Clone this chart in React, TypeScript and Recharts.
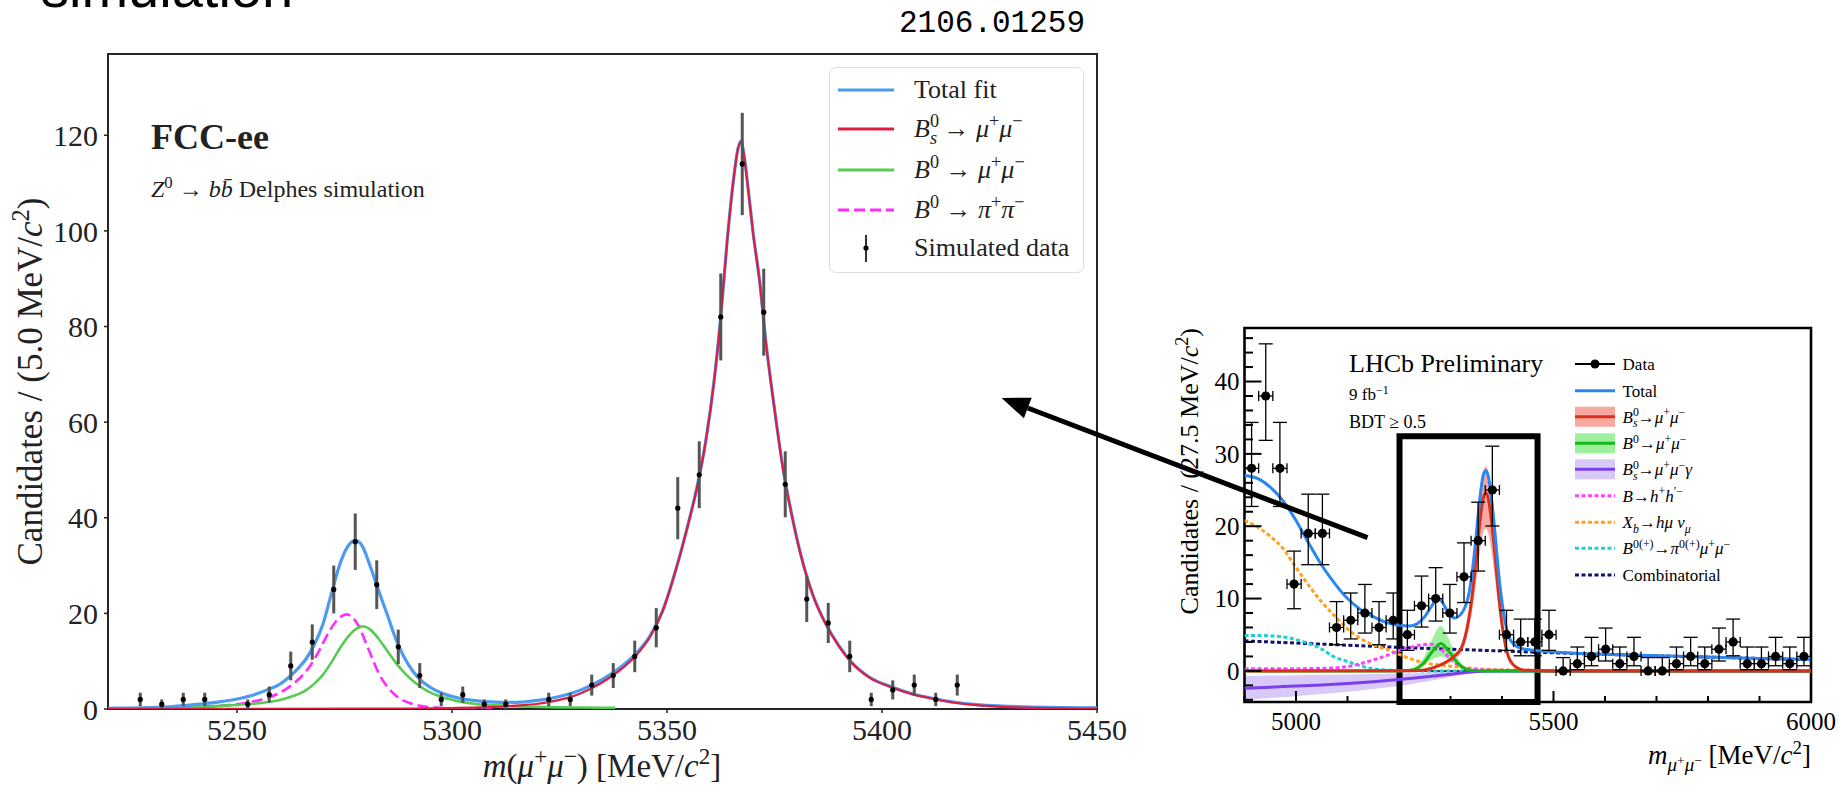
import React from 'react';
import {
  ComposedChart, Line, Area, Scatter, ErrorBar, XAxis, YAxis,
  ReferenceArea, ReferenceLine, Legend,
} from 'recharts';

const SERIF = '"Liberation Serif", "Times New Roman", serif';
const SANS = '"Liberation Sans", Arial, sans-serif';
const MONO = '"Liberation Mono", "DejaVu Sans Mono", monospace';

// ---------- left panel: FCC-ee Delphes simulation ----------
const fccXTicks = [5250, 5300, 5350, 5400, 5450];
const fccYTicks = [0, 20, 40, 60, 80, 100, 120];

const fccMass = [5227.5, 5232.5, 5237.5, 5242.5, 5252.5, 5257.5, 5262.5, 5267.5, 5272.5, 5277.5, 5282.5, 5287.5, 5292.5, 5297.5, 5302.5, 5307.5, 5312.5, 5322.5, 5327.5, 5332.5, 5337.5, 5342.5, 5347.5, 5352.5, 5357.5, 5362.5, 5367.5, 5372.5, 5377.5, 5382.5, 5387.5, 5392.5, 5397.5, 5402.5, 5407.5, 5412.5, 5417.5];
const fccCounts = [2, 1, 2, 2, 1, 3, 9, 14, 25, 35, 26, 13, 7, 2, 3, 1, 1, 2, 2, 5, 7, 11, 17, 42, 49, 82, 114, 83, 47, 23, 18, 11, 2, 4, 5, 2, 5];
const fccErrors = [1.4, 1, 1.4, 1.4, 1, 1.7, 3, 3.7, 5, 5.9, 5.1, 3.6, 2.6, 1.4, 1.7, 1, 1, 1.4, 1.4, 2.2, 2.6, 3.3, 4.1, 6.5, 7, 9.1, 10.7, 9.1, 6.9, 4.8, 4.2, 3.3, 1.4, 2, 2.2, 1.4, 2.2];

const fccTotalMass = [5220, 5225, 5230, 5235, 5240, 5245, 5250, 5254, 5257, 5260, 5262, 5264, 5266, 5268, 5270, 5272, 5274, 5276, 5277.5, 5279, 5281, 5283, 5285, 5287, 5289, 5291, 5293, 5295, 5298, 5301, 5305, 5310, 5315, 5320, 5325, 5330, 5335, 5340, 5343, 5346, 5349, 5352, 5355, 5357, 5359, 5361, 5362.5, 5364, 5365.5, 5366.5, 5367.2, 5368, 5369, 5370, 5371.5, 5373, 5375, 5377, 5379, 5381, 5384, 5387, 5390, 5393, 5397, 5402, 5407, 5412, 5417, 5422, 5428, 5435, 5442, 5450];
const fccTotal = [0.15, 0.2, 0.3, 0.5, 0.9, 1.4, 2.1, 3.0, 4.0, 5.2, 6.6, 8.3, 10.4, 13.5, 17.8, 24.3, 30.5, 34.3, 35.2, 34.3, 29.8, 24.6, 19.6, 14.5, 10.6, 7.8, 5.8, 4.5, 3.2, 2.4, 1.8, 1.45, 1.4, 1.8, 2.6, 4.0, 6.2, 9.3, 11.8, 15.2, 20.6, 29.0, 39.0, 46.5, 56.0, 69.0, 82.0, 98.0, 111.0, 117.2, 118.8, 115.3, 107.8, 99.8, 89.8, 76.8, 62.8, 50.2, 40.7, 32.7, 23.7, 17.7, 13.2, 9.7, 6.7, 4.7, 3.2, 2.2, 1.4, 0.9, 0.6, 0.4, 0.3, 0.25];

const fccBsMass = [5220, 5250, 5280, 5290, 5300, 5305, 5310, 5315, 5320, 5325, 5330, 5335, 5340, 5343, 5346, 5349, 5352, 5355, 5357, 5359, 5361, 5362.5, 5364, 5365.5, 5366.5, 5367.2, 5368, 5369, 5370, 5371.5, 5373, 5375, 5377, 5379, 5381, 5384, 5387, 5390, 5393, 5397, 5402, 5407, 5412, 5417, 5422, 5428, 5435, 5442, 5450];
const fccBs = [0.02, 0.04, 0.08, 0.1, 0.2, 0.3, 0.45, 0.7, 1.1, 1.9, 3.3, 5.6, 8.8, 11.4, 15.0, 20.5, 28.9, 38.9, 46.4, 55.9, 68.9, 81.9, 97.9, 110.9, 117.1, 118.7, 115.2, 107.7, 99.7, 89.7, 76.7, 62.7, 50.1, 40.6, 32.6, 23.6, 17.6, 13.1, 9.6, 6.6, 4.6, 3.1, 2.1, 1.3, 0.8, 0.45, 0.25, 0.12, 0.06];

const fccB0Mass = [5220, 5230, 5240, 5248, 5255, 5260, 5263, 5266, 5268, 5270, 5272, 5274, 5276, 5278, 5279.3, 5281, 5283, 5285, 5287, 5289, 5291, 5294, 5297, 5301, 5305, 5310, 5315, 5320, 5325, 5330, 5338];
const fccB0 = [0.1, 0.2, 0.4, 0.75, 1.2, 1.9, 2.7, 3.9, 5.3, 7.2, 9.8, 12.8, 15.3, 16.9, 17.3, 16.6, 14.6, 12.1, 9.6, 7.5, 5.8, 3.9, 2.7, 1.7, 1.1, 0.75, 0.55, 0.45, 0.35, 0.3, 0.25];

const fccPiPiMass = [5220, 5230, 5240, 5245, 5250, 5254, 5257, 5260, 5263, 5265, 5267, 5269, 5271, 5273, 5275.5, 5277, 5278.5, 5280, 5281.5, 5283, 5284.5, 5286, 5288, 5290, 5293, 5297, 5302, 5310];
const fccPiPi = [0.05, 0.15, 0.35, 0.6, 1.0, 1.6, 2.3, 3.4, 5.2, 6.8, 9.0, 12.0, 15.5, 18.3, 19.8, 19.0, 17.0, 13.8, 10.5, 7.4, 5.2, 3.6, 2.1, 1.3, 0.6, 0.25, 0.1, 0.05];

// ---------- right panel: LHCb preliminary ----------
const lhcbXTickMarks = [4900, 5000, 5100, 5200, 5300, 5400, 5500, 5600, 5700, 5800, 5900, 6000];
const lhcbXLabels = [5000, 5500, 6000];
const lhcbYTickMarks = [-4, -2, 0, 2, 4, 6, 8, 10, 12, 14, 16, 18, 20, 22, 24, 26, 28, 30, 32, 34, 36, 38, 40, 42, 44, 46];
const lhcbYLabels = [0, 10, 20, 30, 40];
const lhcbHalfBin = 13.75;

const lhcbMass = [4913.75, 4941.25, 4968.75, 4996.25, 5023.75, 5051.25, 5078.75, 5106.25, 5133.75, 5161.25, 5188.75, 5216.25, 5243.75, 5271.25, 5298.75, 5326.25, 5353.75, 5381.25, 5408.75, 5436.25, 5463.75, 5491.25, 5518.75, 5546.25, 5573.75, 5601.25, 5628.75, 5656.25, 5683.75, 5711.25, 5738.75, 5766.25, 5793.75, 5821.25, 5848.75, 5876.25, 5903.75, 5931.25, 5958.75, 5986.25];
const lhcbCounts = [28, 38, 28, 12, 19, 19, 6, 7, 8, 6, 7, 5, 9, 10, 8, 13, 18, 25, 5, 4, 4, 5, 0, 1, 2, 3, 1, 2, 0, 0, 1, 2, 1, 3, 4, 1, 1, 2, 1, 2];
const lhcbErrLow = [5.27, 6.13, 5.27, 3.41, 4.32, 4.32, 2.38, 2.58, 2.77, 2.38, 2.58, 2.16, 2.94, 3.11, 2.77, 3.55, 4.2, 4.97, 2.16, 1.91, 1.91, 2.16, 0, 0.83, 1.29, 1.63, 0.83, 1.29, 0, 0, 0.83, 1.29, 0.83, 1.63, 1.91, 0.83, 0.83, 1.29, 0.83, 1.29];
const lhcbErrHigh = [6.35, 7.21, 6.35, 4.56, 5.43, 5.43, 3.58, 3.77, 3.95, 3.58, 3.77, 3.38, 4.11, 4.27, 3.95, 4.7, 5.32, 6.06, 3.38, 3.16, 3.16, 3.38, 1.84, 2.3, 2.64, 2.92, 2.3, 2.64, 1.84, 1.84, 2.3, 2.64, 2.3, 2.92, 3.16, 2.3, 2.3, 2.64, 2.3, 2.64];

const lhcbTotalMass = [4900, 4925, 4950, 4975, 5000, 5025, 5050, 5075, 5100, 5125, 5150, 5175, 5200, 5220, 5235, 5250, 5262, 5270, 5277, 5284, 5292, 5300, 5308, 5315, 5322, 5328, 5335, 5341, 5347, 5353, 5359, 5364, 5369, 5374, 5380, 5386, 5392, 5398, 5404, 5409, 5414, 5420, 5426, 5435, 5450, 5470, 5500, 5550, 5600, 5700, 5800, 5900, 6000];
const lhcbTotal = [27.0, 26.6, 25.4, 23.5, 20.8, 17.6, 14.6, 12.1, 10.0, 8.5, 7.5, 6.7, 6.3, 6.2, 6.5, 7.5, 8.8, 9.6, 9.9, 9.5, 8.5, 7.7, 7.3, 7.5, 8.0, 8.8, 10.4, 13.0, 16.7, 21.0, 25.0, 27.2, 27.7, 26.7, 23.6, 19.4, 14.6, 10.6, 7.6, 5.8, 4.6, 3.9, 3.5, 3.15, 2.95, 2.8, 2.6, 2.42, 2.3, 2.1, 1.91, 1.73, 1.56];

const lhcbBsMass = [4900, 5200, 5240, 5260, 5280, 5298, 5310, 5320, 5328, 5335, 5341, 5347, 5353, 5359, 5364, 5369, 5374, 5380, 5386, 5392, 5398, 5404, 5409, 5414, 5420, 5426, 5435, 5450, 5500, 6000];
const lhcbBs = [0, 0.01, 0.05, 0.3, 0.8, 1.5, 2.2, 3.0, 4.6, 7.0, 9.8, 13.5, 17.8, 21.8, 24.0, 24.6, 23.6, 20.5, 16.3, 11.6, 7.6, 4.6, 2.8, 1.7, 1.0, 0.6, 0.25, 0.08, 0, 0];
const lhcbBsLow = [0, 0.01, 0.04, 0.24, 0.64, 1.2, 1.75, 2.4, 3.7, 5.6, 7.8, 10.8, 14.2, 17.4, 19.2, 19.7, 18.9, 16.4, 13.0, 9.3, 6.1, 3.7, 2.2, 1.35, 0.8, 0.48, 0.2, 0.06, 0, 0];
const lhcbBsHigh = [0, 0.01, 0.06, 0.35, 0.92, 1.72, 2.5, 3.45, 5.3, 8.0, 11.3, 15.5, 20.5, 25.1, 27.6, 28.3, 27.1, 23.6, 18.7, 13.3, 8.7, 5.3, 3.2, 1.95, 1.15, 0.7, 0.29, 0.09, 0, 0];

const lhcbB0Mass = [4900, 5200, 5215, 5230, 5247, 5264, 5281, 5298, 5315, 5332, 5347, 5360, 6000];
const lhcbB0 = [0, 0, 0.05, 0.2, 1.0, 2.6, 3.8, 2.6, 1.0, 0.2, 0.05, 0, 0];
const lhcbB0Low = [0, 0, 0.03, 0.1, 0.6, 1.6, 2.0, 1.5, 0.6, 0.1, 0.03, 0, 0];
const lhcbB0High = [0, 0, 0.08, 0.4, 1.7, 4.3, 6.2, 4.2, 1.6, 0.4, 0.08, 0, 0];

const lhcbBsGMass = [4900, 4950, 5000, 5050, 5100, 5150, 5200, 5250, 5300, 5340, 5375, 6000];
const lhcbBsG = [-2.4, -2.25, -2.1, -1.95, -1.75, -1.5, -1.2, -0.85, -0.45, -0.15, 0, 0];
const lhcbBsGLow = [-4.0, -3.75, -3.5, -3.2, -2.9, -2.5, -2.1, -1.5, -0.85, -0.3, 0, 0];
const lhcbBsGHigh = [-0.7, -0.65, -0.6, -0.55, -0.5, -0.42, -0.35, -0.25, -0.1, -0.02, 0, 0];

const lhcbHHMass = [4900, 5000, 5050, 5100, 5125, 5150, 5175, 5200, 5225, 5250, 5263, 5275, 5290, 5305, 5320, 5335, 5360, 5400, 5500, 6000];
const lhcbHH = [0.3, 0.3, 0.35, 0.6, 1.0, 1.5, 2.1, 2.8, 3.3, 3.65, 3.7, 3.4, 2.4, 1.3, 0.6, 0.3, 0.15, 0.08, 0.03, 0];

const lhcbXbMass = [4900, 4925, 4950, 4975, 5000, 5025, 5050, 5075, 5100, 5125, 5150, 5175, 5200, 5225, 5250, 5275, 5300, 5325, 5350, 5400, 5450, 5500, 6000];
const lhcbXb = [20.8, 19.9, 18.6, 16.9, 14.3, 11.8, 9.5, 7.6, 5.8, 4.5, 3.6, 3.0, 2.3, 1.6, 1.1, 0.85, 0.65, 0.45, 0.3, 0.15, 0.08, 0.04, 0];

const lhcbPiMuMuMass = [4900, 4930, 4960, 4990, 5020, 5050, 5075, 5100, 5125, 5150, 5175, 5200, 5250, 6000];
const lhcbPiMuMu = [4.9, 4.9, 4.8, 4.5, 3.9, 3.0, 1.9, 1.3, 0.7, 0.3, 0.12, 0.04, 0, 0];

const lhcbCombMass = [4900, 5000, 5100, 5200, 5300, 5400, 5500, 5600, 5700, 5800, 5900, 6000];
const lhcbComb = [4.15, 3.85, 3.55, 3.25, 3.0, 2.75, 2.5, 2.28, 2.08, 1.9, 1.72, 1.55];

// boxed region drawn on the LHCb plot (data coordinates)
const boxMass = [5201, 5469];
const boxTop = 32.45;

const pts = (xs: number[], ys: number[]) => xs.map((x, i) => ({ x, y: ys[i] }));
const band = (xs: number[], lo: number[], hi: number[]) => xs.map((x, i) => ({ x, band: [lo[i], hi[i]] }));

// ---------- tiny rich-text helper for sup/sub in svg ----------
type Seg = { t: string; i?: boolean; sh?: number; sc?: number; dx?: number };
const T = (t: string): Seg => ({ t });
const I = (t: string): Seg => ({ t, i: true });
const SUP = (t: string, i = false): Seg => ({ t, i, sh: -0.38, sc: 0.7 });
const SUB = (t: string, i = false): Seg => ({ t, i, sh: 0.25, sc: 0.7 });

const Rich = ({ x, y, size, segs, anchor = 'start', rot = false, bold = false, family = SERIF, fill = '#000' }: any) => {
  let cur = 0;
  return (
    <text x={x} y={y} fontSize={size} textAnchor={anchor} fontFamily={family} fill={fill}
      fontWeight={bold ? 'bold' : 'normal'} transform={rot ? `rotate(-90 ${x} ${y})` : undefined}>
      {segs.map((s: Seg, k: number) => {
        const sh = (s.sh ?? 0) * size;
        const dy = sh - cur;
        cur = sh;
        return (
          <tspan key={k} dy={dy} dx={s.dx ? s.dx * size : undefined} fontSize={(s.sc ?? 1) * size}
            fontStyle={s.i ? 'italic' : 'normal'}>{s.t}</tspan>
        );
      })}
    </text>
  );
};

const C = {
  fBlue: '#4c9bf0', fRed: '#dc1e44', fGreen: '#55cc50', fPink: '#ff2bff',
  lBlue: '#2a86f0', lRed: '#d8301c', lRedBand: '#f7a8a0', lGreen: '#18b818', lGreenBand: '#9ef09e',
  lPurple: '#7a40ec', lPurpleBand: '#d9c9f8', lPink: '#ff44ff', lOrange: '#ffa020', lCyan: '#22d0d0', lNavy: '#12126e',
};

// ---------- legends ----------
const FccLegend = () => {
  const rows = [23, 62, 103, 143, 181];
  const tx = 85;
  return (
    <div style={{ width: 255, height: 206, border: '1.5px solid #dedede', borderRadius: 7, background: 'rgba(255,255,255,0.85)', boxSizing: 'border-box', position: 'relative' }}>
      <svg width={255} height={206} style={{ position: 'absolute', left: -1.5, top: -1.5 }}>
        <line x1={9} x2={65} y1={rows[0]} y2={rows[0]} stroke={C.fBlue} strokeWidth={3} />
        <line x1={9} x2={65} y1={rows[1]} y2={rows[1]} stroke={C.fRed} strokeWidth={3} />
        <line x1={9} x2={65} y1={rows[2]} y2={rows[2]} stroke={C.fGreen} strokeWidth={3} />
        <line x1={9} x2={65} y1={rows[3]} y2={rows[3]} stroke={C.fPink} strokeWidth={3} strokeDasharray="11 5" />
        <line x1={37} x2={37} y1={rows[4] - 13} y2={rows[4] + 14} stroke="#333" strokeWidth={2} />
        <circle cx={37} cy={rows[4]} r={2.6} fill="#000" />
        <Rich x={tx} y={rows[0] + 8} size={26} fill="#222" segs={[T('Total fit')]} />
        <Rich x={tx} y={rows[1] + 8} size={26} fill="#222" segs={[I('B'), SUP('0'), { t: 's', i: true, sh: 0.25, sc: 0.7, dx: -0.35 }, T(' → '), I('μ'), SUP('+'), I('μ'), SUP('−')]} />
        <Rich x={tx} y={rows[2] + 8} size={26} fill="#222" segs={[I('B'), SUP('0'), T(' → '), I('μ'), SUP('+'), I('μ'), SUP('−')]} />
        <Rich x={tx} y={rows[3] + 8} size={26} fill="#222" segs={[I('B'), SUP('0'), T(' → '), I('π'), SUP('+'), I('π'), SUP('−')]} />
        <Rich x={tx} y={rows[4] + 8} size={26} fill="#222" segs={[T('Simulated data')]} />
      </svg>
    </div>
  );
};

const LhcbLegend = () => {
  const rows = [19, 45.7, 71.7, 98.3, 124.3, 150.7, 177.3, 203.3, 230];
  const tx = 52.6;
  const sz = 17;
  const bandSym = (y: number, fill: string, stroke: string) => (
    <g>
      <rect x={5} y={y - 10} width={40} height={20} fill={fill} />
      <line x1={5} x2={45} y1={y} y2={y} stroke={stroke} strokeWidth={3} />
    </g>
  );
  const dotted = (y: number, stroke: string) => (
    <line x1={5} x2={45} y1={y} y2={y} stroke={stroke} strokeWidth={3} strokeDasharray="4 2.5" />
  );
  return (
    <svg width={270} height={250}>
      <line x1={5} x2={45} y1={rows[0]} y2={rows[0]} stroke="#000" strokeWidth={2} />
      <circle cx={25} cy={rows[0]} r={4.5} fill="#000" />
      <line x1={5} x2={45} y1={rows[1]} y2={rows[1]} stroke={C.lBlue} strokeWidth={3} />
      {bandSym(rows[2], C.lRedBand, C.lRed)}
      {bandSym(rows[3], C.lGreenBand, C.lGreen)}
      {bandSym(rows[4], C.lPurpleBand, C.lPurple)}
      {dotted(rows[5], C.lPink)}
      {dotted(rows[6], C.lOrange)}
      {dotted(rows[7], C.lCyan)}
      {dotted(rows[8], C.lNavy)}
      <Rich x={tx} y={rows[0] + 6} size={sz} segs={[T('Data')]} />
      <Rich x={tx} y={rows[1] + 6} size={sz} segs={[T('Total')]} />
      <Rich x={tx} y={rows[2] + 6} size={sz} segs={[I('B'), SUP('0'), { t: 's', i: true, sh: 0.25, sc: 0.7, dx: -0.35 }, T('→'), I('μ'), SUP('+'), I('μ'), SUP('−')]} />
      <Rich x={tx} y={rows[3] + 6} size={sz} segs={[I('B'), SUP('0'), T('→'), I('μ'), SUP('+'), I('μ'), SUP('−')]} />
      <Rich x={tx} y={rows[4] + 6} size={sz} segs={[I('B'), SUP('0'), { t: 's', i: true, sh: 0.25, sc: 0.7, dx: -0.35 }, T('→'), I('μ'), SUP('+'), I('μ'), SUP('−'), I('γ')]} />
      <Rich x={tx} y={rows[5] + 6} size={sz} segs={[I('B'), T('→'), I('h'), SUP('+'), I('h'), SUP('′−')]} />
      <Rich x={tx} y={rows[6] + 6} size={sz} segs={[I('X'), SUB('b', true), T('→'), I('hμ'), T(' '), I('ν'), SUB('μ', true)]} />
      <Rich x={tx} y={rows[7] + 6} size={sz} segs={[I('B'), SUP('0(+)'), T('→'), I('π'), SUP('0(+)'), I('μ'), SUP('+'), I('μ'), SUP('−')]} />
      <Rich x={tx} y={rows[8] + 6} size={sz} segs={[T('Combinatorial')]} />
    </svg>
  );
};

// ---------- inward ticks for the LHCb frame ----------
const BottomTick = (p: any) => {
  const v = p.payload.value;
  const major = lhcbXLabels.includes(v);
  return (
    <g>
      <line x1={p.x} x2={p.x} y1={p.y} y2={p.y - (major ? 11 : 6)} stroke="#000" strokeWidth={2} />
      {major && <text x={p.x} y={p.y + 28} textAnchor="middle" fontSize={25} fontFamily={SERIF} fill="#000">{v}</text>}
    </g>
  );
};
const TopTick = (p: any) => {
  const major = lhcbXLabels.includes(p.payload.value);
  return <line x1={p.x} x2={p.x} y1={p.y} y2={p.y + (major ? 11 : 6)} stroke="#000" strokeWidth={2} />;
};
const LeftTick = (p: any) => {
  const v = p.payload.value;
  const major = lhcbYLabels.includes(v);
  return (
    <g>
      <line x1={p.x} x2={p.x + (major ? 17 : 8.5)} y1={p.y} y2={p.y} stroke="#000" strokeWidth={2} />
      {major && <text x={p.x - 5} y={p.y} dy="0.35em" textAnchor="end" fontSize={25} fontFamily={SERIF} fill="#000">{v}</text>}
    </g>
  );
};
const RightTick = (p: any) => {
  const major = lhcbYLabels.includes(p.payload.value);
  return <line x1={p.x} x2={p.x - (major ? 17 : 8.5)} y1={p.y} y2={p.y} stroke="#000" strokeWidth={2} />;
};

// ---------- charts ----------
const FccChart = () => {
  const data = fccMass.map((x, i) => ({ x, y: fccCounts[i], ey: fccErrors[i] }));
  const tickStyle = { fill: '#222', fontSize: 30, fontFamily: SERIF };
  return (
    <ComposedChart width={1140} height={789} margin={{ top: 54, right: 43, bottom: 30, left: 0 }}>
      <XAxis type="number" dataKey="x" domain={[5220, 5450]} ticks={fccXTicks} allowDataOverflow
        height={50} axisLine={false} tickSize={4} tickMargin={6} tick={tickStyle} tickLine={{ stroke: '#222', strokeWidth: 1.5 }} interval={0} />
      <YAxis type="number" dataKey="y" domain={[0, 137]} ticks={fccYTicks} allowDataOverflow
        width={108} axisLine={false} tickSize={4} tickMargin={6} tick={tickStyle} tickLine={{ stroke: '#222', strokeWidth: 1.5 }} interval={0} />
      <Line data={pts(fccPiPiMass, fccPiPi)} dataKey="y" type="monotone" dot={false} stroke={C.fPink} strokeWidth={2.6} strokeDasharray="11 5" isAnimationActive={false} />
      <Line data={pts(fccB0Mass, fccB0)} dataKey="y" type="monotone" dot={false} stroke={C.fGreen} strokeWidth={2.6} isAnimationActive={false} />
      <Line data={pts(fccTotalMass, fccTotal)} dataKey="y" type="monotone" dot={false} stroke={C.fBlue} strokeWidth={3.2} isAnimationActive={false} />
      <Line data={pts(fccBsMass, fccBs)} dataKey="y" type="monotone" dot={false} stroke={C.fRed} strokeWidth={2.2} isAnimationActive={false} />
      <Scatter data={data} dataKey="y" isAnimationActive={false}
        shape={(p: any) => <circle cx={p.cx} cy={p.cy} r={2.6} fill="#000" />}>
        <ErrorBar dataKey="ey" direction="y" width={0} stroke="#555" strokeWidth={3} />
      </Scatter>
      <ReferenceArea x1={5220} x2={5450} y1={0} y2={137} fill="none" stroke="#262626" strokeWidth={2} ifOverflow="visible" />
      <Legend layout="vertical" align="center" verticalAlign="middle" content={() => <FccLegend />}
        wrapperStyle={{ position: 'absolute', left: 829, top: 67, width: 255, height: 206 }} />
    </ComposedChart>
  );
};

const LhcbChart = () => {
  const data = lhcbMass.map((x, i) => ({ x, y: lhcbCounts[i], ey: [lhcbErrLow[i], lhcbErrHigh[i]], ex: lhcbHalfBin }));
  const dotted = { strokeWidth: 3, strokeDasharray: '4 2.5' };
  return (
    <ComposedChart width={689} height={489} margin={{ top: 28, right: 28, bottom: 27, left: 0 }}>
      <XAxis type="number" dataKey="x" domain={[4900, 6000]} ticks={lhcbXTickMarks} allowDataOverflow interval={0}
        height={60} axisLine={false} tickLine={false} tickSize={0} tickMargin={0} tick={BottomTick} />
      <XAxis xAxisId="top" orientation="top" type="number" domain={[4900, 6000]} ticks={lhcbXTickMarks} allowDataOverflow interval={0}
        height={0} axisLine={false} tickLine={false} tickSize={0} tickMargin={0} tick={TopTick} />
      <YAxis type="number" dataKey="y" domain={[-4.3, 47.4]} ticks={lhcbYTickMarks} allowDataOverflow interval={0}
        width={94.5} axisLine={false} tickLine={false} tickSize={0} tickMargin={0} tick={LeftTick} />
      <YAxis yAxisId="right" orientation="right" type="number" domain={[-4.3, 47.4]} ticks={lhcbYTickMarks} allowDataOverflow interval={0}
        width={0} axisLine={false} tickLine={false} tickSize={0} tickMargin={0} tick={RightTick} />

      <Area data={band(lhcbBsGMass, lhcbBsGLow, lhcbBsGHigh)} dataKey="band" type="monotone" fill={C.lPurpleBand} fillOpacity={1} stroke="none" isAnimationActive={false} />
      <Area data={band(lhcbBsMass, lhcbBsLow, lhcbBsHigh)} dataKey="band" type="monotone" fill={C.lRedBand} fillOpacity={1} stroke="none" isAnimationActive={false} />
      <Area data={band(lhcbB0Mass, lhcbB0Low, lhcbB0High)} dataKey="band" type="monotone" fill={C.lGreenBand} fillOpacity={1} stroke="none" isAnimationActive={false} />
      <ReferenceLine y={0} stroke="#000" strokeWidth={1.5} />

      <Line data={pts(lhcbCombMass, lhcbComb)} dataKey="y" type="monotone" dot={false} stroke={C.lNavy} {...dotted} isAnimationActive={false} />
      <Line data={pts(lhcbPiMuMuMass, lhcbPiMuMu)} dataKey="y" type="monotone" dot={false} stroke={C.lCyan} {...dotted} isAnimationActive={false} />
      <Line data={pts(lhcbXbMass, lhcbXb)} dataKey="y" type="monotone" dot={false} stroke={C.lOrange} {...dotted} isAnimationActive={false} />
      <Line data={pts(lhcbHHMass, lhcbHH)} dataKey="y" type="monotone" dot={false} stroke={C.lPink} {...dotted} isAnimationActive={false} />
      <Line data={pts(lhcbBsGMass, lhcbBsG)} dataKey="y" type="monotone" dot={false} stroke={C.lPurple} strokeWidth={3} isAnimationActive={false} />
      <Line data={pts(lhcbB0Mass, lhcbB0)} dataKey="y" type="monotone" dot={false} stroke={C.lGreen} strokeWidth={3} isAnimationActive={false} />
      <Line data={pts(lhcbBsMass, lhcbBs)} dataKey="y" type="monotone" dot={false} stroke={C.lRed} strokeWidth={3} isAnimationActive={false} />
      <Line data={pts(lhcbTotalMass, lhcbTotal)} dataKey="y" type="monotone" dot={false} stroke={C.lBlue} strokeWidth={3} isAnimationActive={false} />

      <Scatter data={data} dataKey="y" isAnimationActive={false}
        shape={(p: any) => <circle cx={p.cx} cy={p.cy} r={4.6} fill="#000" />}>
        <ErrorBar dataKey="ey" direction="y" width={7} stroke="#000" strokeWidth={1.3} />
        <ErrorBar dataKey="ex" direction="x" width={5} stroke="#000" strokeWidth={1.3} />
      </Scatter>

      <ReferenceArea x1={4900} x2={6000} y1={-4.3} y2={47.4} fill="none" stroke="#000" strokeWidth={2.6} ifOverflow="visible" />
      <ReferenceArea x1={boxMass[0]} x2={boxMass[1]} y1={-4.3} y2={boxTop} fill="none" stroke="#000" strokeWidth={6} ifOverflow="visible" />
      <Legend layout="vertical" align="center" verticalAlign="middle" content={() => <LhcbLegend />}
        wrapperStyle={{ position: 'absolute', left: 420, top: 45, width: 270, height: 250 }} />
    </ComposedChart>
  );
};

export default function App() {
  return (
    <div style={{ position: 'absolute', left: 0, top: 0, width: 1839, height: 789, background: '#fff', overflow: 'hidden' }}>
      <div style={{ position: 'absolute', left: 0, top: 0 }}><FccChart /></div>
      <div style={{ position: 'absolute', left: 1150, top: 300 }}><LhcbChart /></div>
      <svg width={1839} height={789} style={{ position: 'absolute', left: 0, top: 0, pointerEvents: 'none' }}>
        <text x={41} y={7} fontSize={56} fontFamily={SANS} fill="#000">simulation</text>
        <text x={899} y={32} fontSize={31} fontFamily={MONO} fill="#000">2106.01259</text>

        <Rich x={151} y={149} size={36} bold fill="#222" segs={[T('FCC-ee')]} />
        <Rich x={151} y={197} size={24} fill="#222" segs={[I('Z'), SUP('0'), T(' → '), I('b'), I('b\u0304'), T(' Delphes simulation')]} />
        <Rich x={42} y={381.5} size={35} rot anchor="middle" fill="#222" segs={[T('Candidates / (5.0 MeV/'), I('c'), SUP('2'), T(')')]} />
        <Rich x={602} y={777} size={33} anchor="middle" fill="#222" segs={[I('m'), T('('), I('μ'), SUP('+'), I('μ'), SUP('−'), T(') [MeV/'), I('c'), SUP('2'), T(']')]} />

        <Rich x={1349} y={372} size={26} segs={[T('LHCb Preliminary')]} />
        <Rich x={1349} y={400} size={17} segs={[T('9 fb'), SUP('−1')]} />
        <Rich x={1349} y={428} size={18} segs={[T('BDT ≥ 0.5')]} />
        <Rich x={1198} y={328} size={26} rot anchor="end" segs={[T('Candidates / (27.5 MeV/'), I('c'), SUP('2'), T(')')]} />
        <Rich x={1811} y={764} size={27} anchor="end" segs={[I('m'), SUB('μ', true), { t: '+', sh: 0.02, sc: 0.5 }, { t: 'μ', i: true, sh: 0.25, sc: 0.7 }, { t: '−', sh: 0.02, sc: 0.5 }, T(' [MeV/'), I('c'), SUP('2'), T(']')]} />

        <line x1={1367.5} y1={537.7} x2={1027.8} y2={408} stroke="#000" strokeWidth={5} />
        <polygon points="1001.6,398 1031.7,397.7 1023.9,418.3" fill="#000" />
      </svg>
    </div>
  );
}
